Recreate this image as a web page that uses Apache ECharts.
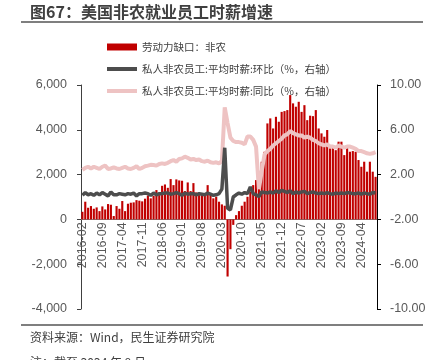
<!DOCTYPE html>
<html><head><meta charset="utf-8">
<script src="https://cdn.jsdelivr.net/npm/echarts@6/dist/echarts.min.js"></script>
<style>html,body{margin:0;padding:0;background:#fff}#c{width:442px;height:360px}</style>
</head><body><div id="c"></div>
<script>
var categories = [
'2016-02','2016-03','2016-04','2016-05','2016-06','2016-07','2016-08','2016-09','2016-10','2016-11','2016-12',
'2017-01','2017-02','2017-03','2017-04','2017-05','2017-06','2017-07','2017-08','2017-09','2017-10','2017-11','2017-12',
'2018-01','2018-02','2018-03','2018-04','2018-05','2018-06','2018-07','2018-08','2018-09','2018-10','2018-11','2018-12',
'2019-01','2019-02','2019-03','2019-04','2019-05','2019-06','2019-07','2019-08','2019-09','2019-10','2019-11','2019-12',
'2020-01','2020-02','2020-03','2020-04','2020-05','2020-06','2020-07','2020-08','2020-09','2020-10','2020-11','2020-12',
'2021-01','2021-02','2021-03','2021-04','2021-05','2021-06','2021-07','2021-08','2021-09','2021-10','2021-11','2021-12',
'2022-01','2022-02','2022-03','2022-04','2022-05','2022-06','2022-07','2022-08','2022-09','2022-10','2022-11','2022-12',
'2023-01','2023-02','2023-03','2023-04','2023-05','2023-06','2023-07','2023-08','2023-09','2023-10','2023-11','2023-12',
'2024-01','2024-02','2024-03','2024-04','2024-05','2024-06','2024-07','2024-08','2024-09'];

var laborGap = [
340, 790, 520, 595, 475, 535, 370, 580, 445, 685, 655, 150,
595, 475, 820, 370, 700, 745, 760, 860, 835, 805, 925, 1070,
940, 1050, 1310, 1085, 1500, 1560, 1410, 1800, 1530, 1785, 1740, 1725,
1265, 1650, 1265, 1620, 1205, 1085, 1085, 1130, 1530, 1085, 940, 1010,
790, 670, 610, -2550, -1330, -245, 190, 370, 610, 790, 1010, 1235,
1530, 1755, 2100, 2575, 3020, 4285, 4510, 4060, 4580, 4360, 4800, 4835,
4880, 5550, 5180, 5030, 5250, 4800, 5100, 4430, 4630, 4610, 4880, 4060,
3840, 3690, 3990, 3170, 3240, 3090, 3470, 3470, 2870, 3240, 3020, 3050,
3020, 2650, 2350, 2575, 2130, 2575, 2130, 1900];

var wageMoM = [
0.16, 0.39, 0.2, 0.3, 0.15, 0.35, 0.2, 0.4, 0.25, 0.1, 0.45, 0.2,
0.2, 0.3, 0.25, 0.2, 0.3, 0.25, 0.35, 0.1, 0.3, 0.3, 0.35, 0.3,
0.15, 0.35, 0.2, 0.3, 0.3, 0.35, 0.35, 0.25, 0.3, 0.4, 0.3, 0.15,
0.35, 0.25, 0.3, 0.3, 0.2, 0.3, 0.25, 0.2, 0.35, 0.25, 0.15, 0.2,
0.3, 0.7, 4.4, -1.0, -1.15, 0.0, 0.2, 0.35, 0.25, 0.4, 0.3, 0.9,
0.3, 0.2, 0.05, 0.45, 0.4, 0.35, 0.45, 0.35, 0.55, 0.4, 0.6, 0.5,
0.4, 0.55, 0.3, 0.45, 0.35, 0.45, 0.5, 0.3, 0.4, 0.45, 0.35, 0.3,
0.35, 0.3, 0.4, 0.3, 0.25, 0.35, 0.3, 0.35, 0.3, 0.4, 0.35, 0.3,
0.3, 0.35, 0.25, 0.35, 0.3, 0.25, 0.4, 0.35];

var wageYoY = [
2.42, 2.6, 2.7, 2.55, 2.7, 2.6, 2.5, 2.7, 2.8, 2.5, 2.55, 2.65,
2.55, 2.5, 2.6, 2.7, 2.55, 2.5, 2.6, 2.75, 2.5, 2.6, 2.75, 2.8,
2.87, 2.85, 2.8, 2.95, 3.0, 2.95, 3.05, 3.2, 3.3, 3.15, 3.4, 3.45,
3.6, 3.5, 3.35, 3.4, 3.3, 3.35, 3.2, 3.15, 3.25, 3.1, 3.05, 3.1,
3.0, 3.2, 8.0, 6.6, 5.3, 5.0, 4.9, 4.9, 4.85, 4.7, 5.4, 5.4,
5.1, 4.5, 0.7, 2.3, 3.8, 4.1, 4.3, 4.6, 4.8, 5.0, 5.2, 5.5,
5.6, 5.9, 5.7, 5.6, 5.5, 5.5, 5.3, 5.4, 5.3, 5.1, 5.0, 4.8,
4.7, 4.6, 4.7, 4.5, 4.5, 4.4, 4.6, 4.5, 4.4, 4.5, 4.5, 4.4,
4.3, 4.1, 4.1, 4.0, 3.9, 3.85, 3.9, 4.0];

var names = ['劳动力缺口：非农', '私人非农员工:平均时薪:环比（%，右轴）', '私人非农员工:平均时薪:同比（%，右轴）'];
var leftTicks = {min: -4000, max: 6000, interval: 2000};
var rightTicks = {min: -10, max: 10, interval: 4};

var GRID = {left: 81, right: 65, top: 85, bottom: 51};
var plotH = 360 - GRID.top - GRID.bottom;
// distance of left-axis zero above the grid bottom
var zeroOffset = plotH * (0 - leftTicks.min) / (leftTicks.max - leftTicks.min);

var FONT = "'Liberation Sans', 'Noto Sans CJK SC', sans-serif";
var CJK = "'Noto Sans CJK SC', 'Liberation Sans', sans-serif";
var chart = echarts.init(document.getElementById('c'));
chart.setOption({
  animation: false,
  backgroundColor: '#fff',
  title: [
    {text: '图67：美国非农就业员工时薪增速', left: 30, top: 4, padding: 0,
     textStyle: {fontFamily: CJK, fontSize: 16, fontWeight: 'bold', color: '#404040'}},
    {text: '资料来源：Wind，民生证券研究院', left: 30, top: 331, padding: 0,
     textStyle: {fontFamily: CJK, fontSize: 12, fontWeight: 'normal', color: '#404040'}},
    {text: '注：截至 2024 年 9 月', left: 30, top: 356, padding: 0,
     textStyle: {fontFamily: CJK, fontSize: 12, fontWeight: 'normal', color: '#404040'}}
  ],
  graphic: [
    {type: 'line', shape: {x1: 21, y1: 22, x2: 423, y2: 22}, style: {stroke: '#555', lineWidth: 1.5}},
    {type: 'line', shape: {x1: 21, y1: 325, x2: 423, y2: 325}, style: {stroke: '#555', lineWidth: 1.5}}
  ],
  legend: {
    orient: 'vertical', left: 107, top: 40, padding: 0, itemWidth: 30, itemHeight: 7, itemGap: 8,
    textStyle: {fontFamily: CJK, fontSize: 10.5, color: '#404040', lineHeight: 14},
    data: [
      {name: names[0], icon: 'path://M0,0L30,0L30,7L0,7Z'},
      {name: names[1], icon: 'path://M0,0L30,0L30,4L0,4Z'},
      {name: names[2], icon: 'path://M0,0L30,0L30,4L0,4Z'}
    ]
  },
  grid: GRID,
  xAxis: {
    type: 'category', data: categories, boundaryGap: true, position: 'bottom', offset: -zeroOffset,
    axisLine: {onZero: false, lineStyle: {color: '#808080', width: 1}},
    axisTick: {show: false},
    axisLabel: {rotate: 90, interval: 6, margin: 3, fontFamily: FONT, fontSize: 12.5, color: '#595959'},
    splitLine: {show: false}
  },
  yAxis: [
    {type: 'value', min: leftTicks.min, max: leftTicks.max, interval: leftTicks.interval,
     axisLine: {show: true, lineStyle: {color: '#404040', width: 1}},
     axisTick: {show: true, length: 4, lineStyle: {color: '#404040'}},
     axisLabel: {margin: 14, fontFamily: FONT, fontSize: 12.5, color: '#595959',
       formatter: function (v) { return v.toLocaleString('en-US'); }},
     splitLine: {show: false}},
    {type: 'value', min: rightTicks.min, max: rightTicks.max, interval: rightTicks.interval, position: 'right',
     axisLine: {show: true, lineStyle: {color: '#000', width: 1}},
     axisTick: {show: true, length: 4, lineStyle: {color: '#000'}},
     axisLabel: {margin: 13, fontFamily: FONT, fontSize: 12.5, color: '#595959',
       formatter: function (v) { return v.toFixed(2); }},
     splitLine: {show: false}}
  ],
  series: [
    {name: names[0], type: 'bar', yAxisIndex: 0, data: laborGap, barCategoryGap: '25%',
     itemStyle: {color: '#C00000'}, z: 2},
    {name: names[1], type: 'line', yAxisIndex: 1, data: wageMoM, symbol: 'none',
     lineStyle: {color: '#4D4D4D', width: 3.5}, itemStyle: {color: '#4D4D4D'}, z: 4},
    {name: names[2], type: 'line', yAxisIndex: 1, data: wageYoY, symbol: 'none',
     lineStyle: {color: '#EEC3C3', width: 4}, itemStyle: {color: '#EEC3C3'}, z: 3}
  ]
});
</script></body></html>
